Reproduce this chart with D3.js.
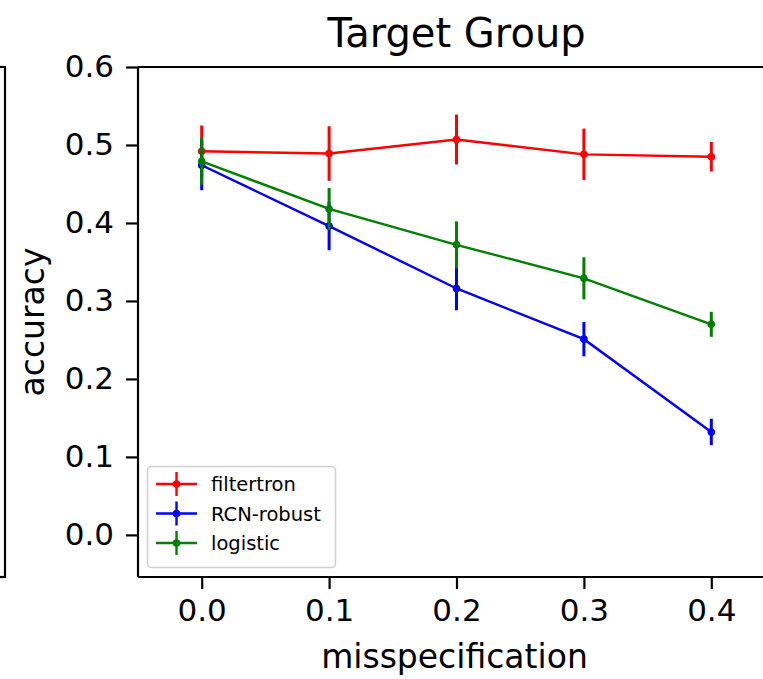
<!DOCTYPE html>
<html>
<head>
<meta charset="utf-8">
<script src="https://cdn.jsdelivr.net/npm/d3@7"></script>
<style>
  html, body { margin: 0; padding: 0; background: #fff; }
  svg { display: block; }
  text { font-family: "DejaVu Sans", sans-serif; fill: #000; }
</style>
</head>
<body>
<svg id="chart" width="763" height="679"></svg>
<script>
// Misspecification levels on the x axis
const misspec = [0.0, 0.1, 0.2, 0.3, 0.4];

// Mean accuracy for each method
const filtertron = [0.492, 0.489, 0.507, 0.488, 0.485];
const rcnRobust  = [0.474, 0.396, 0.316, 0.251, 0.132];
const logistic   = [0.479, 0.418, 0.372, 0.329, 0.270];

// Error bar half-widths
const filtertronErr = [0.033, 0.035, 0.032, 0.033, 0.019];
const rcnRobustErr  = [0.032, 0.031, 0.028, 0.022, 0.017];
const logisticErr   = [0.030, 0.027, 0.030, 0.027, 0.016];

const xTicks = [0.0, 0.1, 0.2, 0.3, 0.4];
const yTicks = [0.0, 0.1, 0.2, 0.3, 0.4, 0.5, 0.6];

const seriesNames  = ["filtertron", "RCN-robust", "logistic"];
const seriesColors = ["#ff0000", "#0000ff", "#008000"];

const series = [
  { name: seriesNames[0], color: seriesColors[0], y: filtertron, err: filtertronErr },
  { name: seriesNames[1], color: seriesColors[1], y: rcnRobust,  err: rcnRobustErr },
  { name: seriesNames[2], color: seriesColors[2], y: logistic,   err: logisticErr }
];

const svg = d3.select("#chart");

// Axes box (the right side runs past the canvas edge)
const box = { left: 138, right: 775, top: 67, bottom: 577 };

const x = d3.scaleLinear().domain([-0.05, 0.45]).range([box.left, box.right]);
const y = d3.scaleLinear().domain([-0.054, 0.6]).range([box.bottom, box.top]);

// Edge of the neighbouring panel on the left
svg.append("rect")
  .attr("x", -20).attr("y", box.top)
  .attr("width", 25).attr("height", box.bottom - box.top)
  .attr("fill", "none").attr("stroke", "#000").attr("stroke-width", 2.2);

// Series: connecting line, error bars, markers
const line = d3.line().x((d, i) => x(misspec[i])).y(d => y(d));
const plot = svg.append("g");

series.forEach(s => {
  const g = plot.append("g");
  g.append("path")
    .datum(s.y)
    .attr("d", line)
    .attr("fill", "none")
    .attr("stroke", s.color)
    .attr("stroke-width", 2.4);
  g.selectAll("line.err")
    .data(s.y)
    .join("line")
    .attr("class", "err")
    .attr("x1", (d, i) => x(misspec[i]))
    .attr("x2", (d, i) => x(misspec[i]))
    .attr("y1", (d, i) => y(d - s.err[i]))
    .attr("y2", (d, i) => y(d + s.err[i]))
    .attr("stroke", s.color)
    .attr("stroke-width", 3);
  g.selectAll("circle")
    .data(s.y)
    .join("circle")
    .attr("cx", (d, i) => x(misspec[i]))
    .attr("cy", d => y(d))
    .attr("r", 3.8)
    .attr("fill", s.color);
});

// Spines
const spine = (x1, y1, x2, y2) => svg.append("line")
  .attr("x1", x1).attr("y1", y1).attr("x2", x2).attr("y2", y2)
  .attr("stroke", "#000").attr("stroke-width", 2.2);
spine(box.left, box.top, box.left, box.bottom);
spine(box.left, box.bottom, box.right, box.bottom);
spine(box.left, box.top, box.right, box.top);
spine(box.right, box.top, box.right, box.bottom);

// Axes
const xAxis = d3.axisBottom(x).tickValues(xTicks).tickFormat(d3.format(".1f"))
  .tickSize(12).tickPadding(10);
const yAxis = d3.axisLeft(y).tickValues(yTicks).tickFormat(d3.format(".1f"))
  .tickSize(12).tickPadding(12);

const gx = svg.append("g").attr("transform", `translate(0,${box.bottom})`).call(xAxis);
const gy = svg.append("g").attr("transform", `translate(${box.left},0)`).call(yAxis);
[gx, gy].forEach(g => {
  g.select(".domain").remove();
  g.selectAll(".tick line").attr("stroke", "#000").attr("stroke-width", 2.2);
  g.selectAll(".tick text").attr("font-size", 31).attr("font-family", "DejaVu Sans").attr("fill", "#000");
});

// Titles
svg.append("text")
  .attr("x", (box.left + box.right) / 2).attr("y", 47)
  .attr("text-anchor", "middle").attr("font-size", 40)
  .text("Target Group");

svg.append("text")
  .attr("x", (box.left + box.right) / 2 - 2).attr("y", 668)
  .attr("text-anchor", "middle").attr("font-size", 33)
  .text("misspecification");

svg.append("text")
  .attr("transform", `translate(44,${(box.top + box.bottom) / 2}) rotate(-90)`)
  .attr("text-anchor", "middle").attr("font-size", 33)
  .text("accuracy");

// Legend
const legend = svg.append("g");
legend.append("rect")
  .attr("x", 147.5).attr("y", 466.5).attr("width", 188).attr("height", 101)
  .attr("rx", 4).attr("fill", "#fff").attr("fill-opacity", 0.8)
  .attr("stroke", "#d0d0d0").attr("stroke-width", 1.5);

series.forEach((s, i) => {
  const ly = 484 + i * 29.5;
  legend.append("line")
    .attr("x1", 156).attr("x2", 197).attr("y1", ly).attr("y2", ly)
    .attr("stroke", s.color).attr("stroke-width", 2.4);
  legend.append("line")
    .attr("x1", 176.5).attr("x2", 176.5).attr("y1", ly - 12).attr("y2", ly + 12)
    .attr("stroke", s.color).attr("stroke-width", 2.4);
  legend.append("circle")
    .attr("cx", 176.5).attr("cy", ly).attr("r", 3.8).attr("fill", s.color);
  legend.append("text")
    .attr("x", 211).attr("y", ly + 7)
    .attr("font-size", 19.5)
    .text(s.name);
});
</script>
</body>
</html>
